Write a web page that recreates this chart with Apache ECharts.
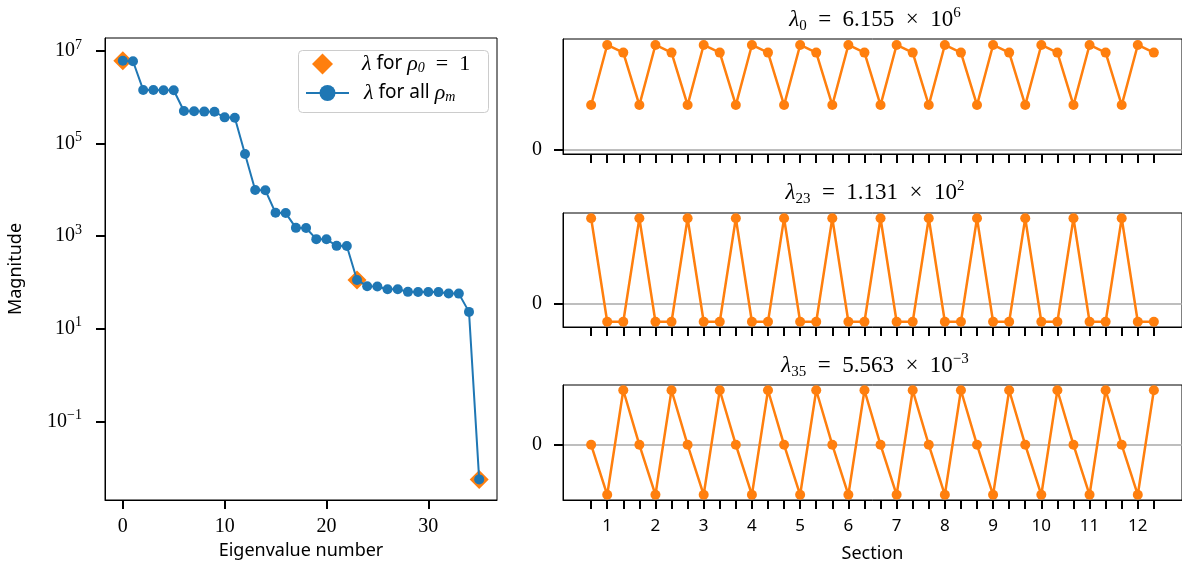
<!DOCTYPE html>
<html>
<head>
<meta charset="utf-8">
<script src="https://cdn.jsdelivr.net/npm/echarts@6/dist/echarts.min.js"></script>
<style>
  html, body { margin: 0; padding: 0; background: #fff; }
  #chart { width: 1182px; height: 571px; }
</style>
</head>
<body>
<div id="chart"></div>
<script>
// eigenvalue magnitudes, index 0..35
const magnitudes = [
  6.155e6, 6.0e6, 1.44e6, 1.43e6, 1.42e6, 1.42e6, 5.05e5, 5.0e5, 4.9e5, 4.85e5,
  3.68e5, 3.6e5, 5.93e4, 9.9e3, 9.8e3, 3.19e3, 3.15e3, 1.51e3, 1.5e3, 861,
  855, 617, 610, 113.1, 83, 82, 71.5, 71, 62.5, 62.3,
  62, 61.8, 57.7, 57.3, 23.1, 5.563e-3
]
// eigenvalues highlighted (rho_0 = 1)
const highlightIdx = [0, 23, 35]

// tick values
const yTickValues = [1e-1, 1e1, 1e3, 1e5, 1e7]
const xTickValues = [0, 10, 20, 30]

// eigenvector components along the 36 positions (normalised)
const mode0 = [
  0.426, 1, 0.927, 0.426, 1, 0.927, 0.426, 1, 0.927, 0.426, 1, 0.927,
  0.426, 1, 0.927, 0.426, 1, 0.927, 0.426, 1, 0.927, 0.426, 1, 0.927,
  0.426, 1, 0.927, 0.426, 1, 0.927, 0.426, 1, 0.927, 0.426, 1, 0.927
]
const mode23 = [
  1, -0.215, -0.215, 1, -0.215, -0.215, 1, -0.215, -0.215, 1, -0.215, -0.215,
  1, -0.215, -0.215, 1, -0.215, -0.215, 1, -0.215, -0.215, 1, -0.215, -0.215,
  1, -0.215, -0.215, 1, -0.215, -0.215, 1, -0.215, -0.215, 1, -0.215, -0.215
]
const mode35 = [
  0, -0.916, 1, 0, -0.916, 1, 0, -0.916, 1, 0, -0.916, 1,
  0, -0.916, 1, 0, -0.916, 1, 0, -0.916, 1, 0, -0.916, 1,
  0, -0.916, 1, 0, -0.916, 1, 0, -0.916, 1, 0, -0.916, 1
]
const positionTicks = [
  0, 1, 2, 3, 4, 5, 6, 7, 8, 9, 10, 11, 12, 13, 14, 15, 16, 17,
  18, 19, 20, 21, 22, 23, 24, 25, 26, 27, 28, 29, 30, 31, 32, 33, 34, 35
]
const sectionTicks = [1, 4, 7, 10, 13, 16, 19, 22, 25, 28, 31, 34]
const sectionLabels = ['1', '2', '3', '4', '5', '6', '7', '8', '9', '10', '11', '12']

const modeTitles = [
  '{i|λ}{sub|0}{t|\u2002=\u20026.155\u2002×\u200210}{sup|6}',
  '{i|λ}{sub|23}{t|\u2002=\u20021.131\u2002×\u200210}{sup|2}',
  '{i|λ}{sub|35}{t|\u2002=\u20025.563\u2002×\u200210}{sup|−3}'
]

const BLUE = '#1f77b4'
const ORANGE = '#ff7f0e'
const SERIF = '"Liberation Serif", "DejaVu Serif", serif'
const SANS = '"Noto Sans", "DejaVu Sans", sans-serif'

const mathRich = {
  i: { fontFamily: SERIF, fontStyle: 'italic', fontWeight: 'normal', fontSize: 23, lineHeight: 28, color: '#000' },
  t: { fontFamily: SERIF, fontWeight: 'normal', fontSize: 23, lineHeight: 28, color: '#000' },
  sub: { fontFamily: SERIF, fontWeight: 'normal', fontSize: 15, lineHeight: 14, verticalAlign: 'bottom', color: '#000' },
  sup: { fontFamily: SERIF, fontWeight: 'normal', fontSize: 15, lineHeight: 18, verticalAlign: 'top', color: '#000' }
}

const legendRich = {
  i: { fontFamily: SERIF, fontStyle: 'italic', fontSize: 22, lineHeight: 22, color: '#000' },
  t: { fontFamily: SERIF, fontSize: 22, lineHeight: 22, color: '#000' },
  s: { fontFamily: SANS, fontSize: 19, lineHeight: 22, color: '#000' },
  sub: { fontFamily: SERIF, fontStyle: 'italic', fontSize: 14, lineHeight: 12, verticalAlign: 'bottom', color: '#000' }
}

const chart = echarts.init(document.getElementById('chart'), null, { renderer: 'canvas' })

const rightGrids = [
  { left: 563, right: -6, top: 39, height: 115 },
  { left: 563, right: -6, top: 213, height: 114 },
  { left: 563, right: -6, top: 385, height: 115 }
]
const modeRanges = [[-0.041, 1.057], [-0.276, 1.061], [-1.012, 1.096]]
const modes = [mode0, mode23, mode35]
const titleTops = [1, 174, 347]

const grids = [{ left: 105, right: 685, top: 38, bottom: 71 }].concat(rightGrids).map(g =>
  Object.assign({ show: true, borderColor: '#000', borderWidth: 1, backgroundColor: 'transparent' }, g)
)

const tickStyle = { color: '#000', width: 2 }

const xAxes = [{
  type: 'value', gridIndex: 0, min: -1.75, max: 36.75,
  name: 'Eigenvalue number', nameLocation: 'middle', nameGap: 42,
  nameTextStyle: { fontFamily: SANS, fontSize: 18, color: '#000' },
  axisLine: { onZero: false, lineStyle: { color: '#000', width: 1 } },
  axisTick: { length: 9, lineStyle: tickStyle, customValues: xTickValues },
  axisLabel: { customValues: xTickValues, fontFamily: SERIF, fontSize: 20, color: '#000', margin: 17 },
  splitLine: { show: false }
}]
const yAxes = [{
  type: 'log', logBase: 10, gridIndex: 0, min: Math.pow(10, -2.7), max: Math.pow(10, 7.28),
  name: 'Magnitude', nameLocation: 'middle', nameGap: 80,
  nameTextStyle: { fontFamily: SANS, fontSize: 18, color: '#000' },
  axisLine: { show: true, onZero: false, lineStyle: { color: '#000', width: 1 } },
  axisTick: { show: true, length: 9, lineStyle: tickStyle, customValues: yTickValues },
  axisLabel: {
    customValues: yTickValues, margin: 23, color: '#000',
    formatter: v => {
      const e = Math.round(Math.log10(v))
      return '{b|10}{s|' + (e < 0 ? '−' + (-e) : e) + '}'
    },
    rich: {
      b: { fontFamily: SERIF, fontSize: 20, lineHeight: 26, color: '#000' },
      s: { fontFamily: SERIF, fontSize: 14, lineHeight: 18, verticalAlign: 'top', color: '#000' }
    }
  },
  splitLine: { show: false },
  minorTick: { show: false }
}]

modes.forEach((m, k) => {
  const last = k === modes.length - 1
  xAxes.push({
    type: 'value', gridIndex: k + 1, min: -1.75, max: 36.75,
    name: last ? 'Section' : '', nameLocation: 'middle', nameGap: 45,
    nameTextStyle: { fontFamily: SANS, fontSize: 18, color: '#000' },
    axisLine: { onZero: false, lineStyle: { color: '#000', width: 1 } },
    axisTick: { length: 9, lineStyle: tickStyle, customValues: positionTicks },
    axisLabel: {
      show: last, customValues: sectionTicks, fontFamily: SANS, fontSize: 17, color: '#000', margin: 18,
      formatter: v => sectionLabels[sectionTicks.indexOf(v)]
    },
    splitLine: { show: false }
  })
  yAxes.push({
    type: 'value', gridIndex: k + 1, min: modeRanges[k][0], max: modeRanges[k][1],
    axisLine: { show: true, onZero: false, lineStyle: { color: '#000', width: 1 } },
    axisTick: { show: true, length: 9, lineStyle: tickStyle, customValues: [0] },
    axisLabel: { customValues: [0], fontFamily: SERIF, fontSize: 20, color: '#000', margin: 21 },
    splitLine: { show: true, lineStyle: { color: '#a8a8a8', width: 1.5 } }
  })
})

const series = [
  {
    name: 'rho0', type: 'scatter', xAxisIndex: 0, yAxisIndex: 0,
    symbol: 'diamond', symbolSize: 19,
    itemStyle: { color: ORANGE, opacity: 1 },
    data: highlightIdx.map(i => [i, magnitudes[i]]),
    z: 2
  },
  {
    name: 'all', type: 'line', xAxisIndex: 0, yAxisIndex: 0,
    symbol: 'circle', symbolSize: 10, showSymbol: true,
    lineStyle: { color: BLUE, width: 2 },
    itemStyle: { color: BLUE },
    data: magnitudes.map((v, i) => [i, v]),
    z: 3
  }
]
modes.forEach((m, k) => {
  series.push({
    type: 'line', xAxisIndex: k + 1, yAxisIndex: k + 1,
    symbol: 'circle', symbolSize: 10, showSymbol: true,
    lineStyle: { color: ORANGE, width: 2.5 },
    itemStyle: { color: ORANGE },
    data: m.map((v, i) => [i, v])
  })
})

chart.setOption({
  animation: false,
  backgroundColor: '#fff',
  title: modeTitles.map((t, k) => ({
    text: t, left: 870, top: titleTops[k], textAlign: 'center',
    textStyle: { fontWeight: 'normal', rich: mathRich }
  })),
  // legend frame
  graphic: [{
    type: 'rect', z: 100,
    shape: { x: 298.5, y: 50.5, width: 190, height: 62, r: 4 },
    style: { fill: 'rgba(255,255,255,0.8)', stroke: '#cccccc', lineWidth: 1 }
  }],
  legend: [
    {
      left: 312, top: 53, padding: 0, z: 101,
      itemWidth: 21, itemHeight: 21,
      data: [{ name: 'rho0', icon: 'diamond', itemStyle: { color: ORANGE } }],
      formatter: () => '{g|}{i|λ}{s| for }{i|ρ}{sub|0}{t|\u2002=\u20021}',
      textStyle: { rich: Object.assign({ g: { width: 24 } }, legendRich) }
    },
    {
      left: 305, top: 82, padding: 0, z: 101,
      itemWidth: 43, itemHeight: 20,
      data: [{ name: 'all' }],
      formatter: () => '{g|}{i|λ}{s| for all }{i|ρ}{sub|m}',
      textStyle: { rich: Object.assign({ g: { width: 10 } }, legendRich) }
    }
  ],
  grid: grids,
  xAxis: xAxes,
  yAxis: yAxes,
  series: series
})
</script>
</body>
</html>
